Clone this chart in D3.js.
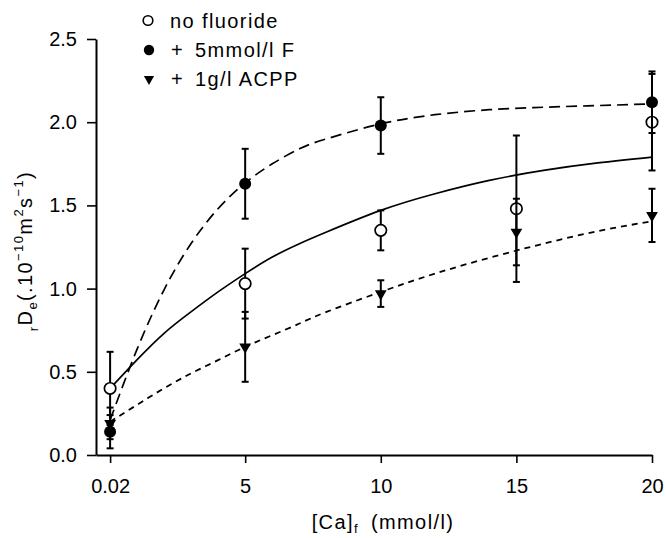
<!DOCTYPE html>
<html><head><meta charset="utf-8">
<script src="https://cdn.jsdelivr.net/npm/d3@7"></script>
<style>
body{margin:0;background:#fff}
svg{display:block}
text{font-family:"Liberation Sans",Arial,Helvetica,sans-serif;fill:#000}
</style></head>
<body><svg id="c" width="666" height="538"></svg>
<script>
// ---- data ----
const xTicks = [0.02, 5, 10, 15, 20];
const xTickLabels = ["0.02", "5", "10", "15", "20"];
const yTicks = [0, 0.5, 1.0, 1.5, 2.0, 2.5];
const yTickLabels = ["0.0", "0.5", "1.0", "1.5", "2.0", "2.5"];

// no fluoride (open circles)
const noF_x = [0.02, 5, 10, 15, 20];
const noF_y = [0.40, 1.03, 1.35, 1.48, 2.00];
const noF_err = [0.22, 0.21, 0.12, 0.44, 0.29];
// + 5mmol/l F (filled circles)
const F_x = [0.02, 5, 10, 20];
const F_y = [0.14, 1.63, 1.98, 2.12];
const F_err = [0.10, 0.21, 0.17, 0.185];
// + 1g/l ACPP (down triangles)
const AC_x = [0.02, 5, 10, 15, 20];
const AC_y = [0.19, 0.65, 0.97, 1.34, 1.44];
const AC_err = [0.095, 0.21, 0.08, 0.20, 0.16];

// fitted curves
const curveX = [0.02, 1, 2, 3, 4, 5, 6, 7, 8, 10, 12, 14, 16, 18, 20];
const noF_fit = [0.40, 0.57, 0.73, 0.86, 0.98, 1.09, 1.19, 1.27, 1.34, 1.47, 1.57, 1.65, 1.71, 1.755, 1.79];
const F_fit = [0.21, 0.63, 0.99, 1.27, 1.48, 1.635, 1.75, 1.84, 1.90, 1.99, 2.045, 2.075, 2.09, 2.10, 2.11];
const AC_fit = [0.20, 0.30, 0.40, 0.49, 0.57, 0.65, 0.72, 0.79, 0.86, 0.98, 1.09, 1.185, 1.27, 1.345, 1.405];

const legendLabels = ["no fluoride", "5mmol/l F", "1g/l ACPP"];

// ---- drawing ----
const svg = d3.select("#c");
const x = d3.scaleLinear().domain([-0.5, 20]).range([96, 652]);
const y = d3.scaleLinear().domain([0, 2.5]).range([455, 39]);
const FS = 20;

// axes
const gy = svg.append("g").attr("transform", "translate(96,0)")
  .call(d3.axisLeft(y).tickValues(yTicks).tickFormat((d, i) => yTickLabels[i])
    .tickSize(9).tickSizeOuter(0).tickPadding(10));
const gx = svg.append("g").attr("transform", "translate(0,455)")
  .call(d3.axisBottom(x).tickValues(xTicks).tickFormat((d, i) => xTickLabels[i])
    .tickSize(8).tickSizeOuter(0).tickPadding(16));
[gy, gx].forEach(g => {
  g.attr("font-family", null).attr("font-size", null);
  g.select(".domain").attr("stroke", "#000").attr("stroke-width", 2);
  g.selectAll(".tick line").attr("stroke", "#000").attr("stroke-width", 1.6);
  g.selectAll(".tick text").style("font-size", FS + "px");
});

// curves
const line = d3.line().x(d => x(d[0])).y(d => y(d[1])).curve(d3.curveNatural);
const mk = ys => curveX.map((v, i) => [v, ys[i]]);
svg.append("path").attr("d", line(mk(noF_fit))).attr("fill", "none")
  .attr("stroke", "#000").attr("stroke-width", 1.7);
svg.append("path").attr("d", line(mk(F_fit))).attr("fill", "none")
  .attr("stroke", "#000").attr("stroke-width", 1.7).attr("stroke-dasharray", "11,6");
svg.append("path").attr("d", line(mk(AC_fit))).attr("fill", "none")
  .attr("stroke", "#000").attr("stroke-width", 1.8).attr("stroke-dasharray", "6,5");

// error bars
function errBars(xs, ys, es) {
  const g = svg.append("g").attr("stroke", "#000").attr("stroke-width", 2);
  xs.forEach((xv, i) => {
    const px = x(xv), top = y(ys[i] + es[i]), bot = y(ys[i] - es[i]);
    g.append("line").attr("x1", px).attr("x2", px).attr("y1", top).attr("y2", bot);
    g.append("line").attr("x1", px - 3.5).attr("x2", px + 3.5).attr("y1", top).attr("y2", top);
    g.append("line").attr("x1", px - 3.5).attr("x2", px + 3.5).attr("y1", bot).attr("y2", bot);
  });
}
const tri = d3.symbol().type(d3.symbolTriangle).size(60);

errBars(noF_x, noF_y, noF_err);
svg.append("g").selectAll("circle").data(noF_x).join("circle")
  .attr("cx", d => x(d)).attr("cy", (d, i) => y(noF_y[i])).attr("r", 5.7)
  .attr("fill", "#fff").attr("stroke", "#000").attr("stroke-width", 1.7);
errBars(F_x, F_y, F_err);
errBars(AC_x, AC_y, AC_err);
svg.append("g").selectAll("circle").data(F_x).join("circle")
  .attr("cx", d => x(d)).attr("cy", (d, i) => y(F_y[i])).attr("r", 6)
  .attr("fill", "#000");
svg.append("g").selectAll("path").data(AC_x).join("path")
  .attr("d", tri)
  .attr("transform", (d, i) => `translate(${x(d)},${y(AC_y[i])}) rotate(180)`)
  .attr("fill", "#000");

// legend
const lg = svg.append("g");
const rows = [20.5, 50, 79];
lg.append("circle").attr("cx", 148).attr("cy", rows[0]).attr("r", 4.8)
  .attr("fill", "#fff").attr("stroke", "#000").attr("stroke-width", 1.6);
lg.append("circle").attr("cx", 149).attr("cy", rows[1]).attr("r", 5.2).attr("fill", "#000");
lg.append("path").attr("d", d3.symbol().type(d3.symbolTriangle).size(45))
  .attr("transform", `translate(149,${rows[2]}) rotate(180)`).attr("fill", "#000");
const ls = "1.4px";
lg.append("text").attr("x", 170).attr("y", rows[0] + 7).style("font-size", FS + "px")
  .style("letter-spacing", ls).attr("xml:space", "preserve").text("no fluoride");
[1, 2].forEach(k => {
  lg.append("text").attr("x", 171).attr("y", rows[k] + 7).style("font-size", FS + "px").text("+");
  lg.append("text").attr("x", 195).attr("y", rows[k] + 7).style("font-size", FS + "px")
    .style("letter-spacing", ls).text(legendLabels[k]);
});

// y title
const yt = svg.append("text").attr("transform", "translate(32,251) rotate(-90)")
  .attr("text-anchor", "middle").style("font-size", "20px").style("letter-spacing", "1.4px");
const parts = [["r", 13, 6], ["D", 20, -6], ["e", 13, 5], ["(.10", 20, -5], ["\u221210", 13, -9],
  ["m", 20, 9], ["2", 13, -9], ["s", 20, 9], ["\u22121", 13, -9], [")", 20, 9]];
parts.forEach(p => yt.append("tspan").style("font-size", p[1] + "px").attr("dy", p[2]).text(p[0]));

// x title
const xt = svg.append("text").attr("x", 383).attr("y", 529).attr("text-anchor", "middle")
  .style("font-size", "20px").style("letter-spacing", "1.4px");
xt.append("tspan").text("[Ca]");
xt.append("tspan").style("font-size", "13px").attr("dy", 4).text("f");
xt.append("tspan").attr("dy", -4).attr("dx", 12).text("(mmol/l)");
</script></body></html>
